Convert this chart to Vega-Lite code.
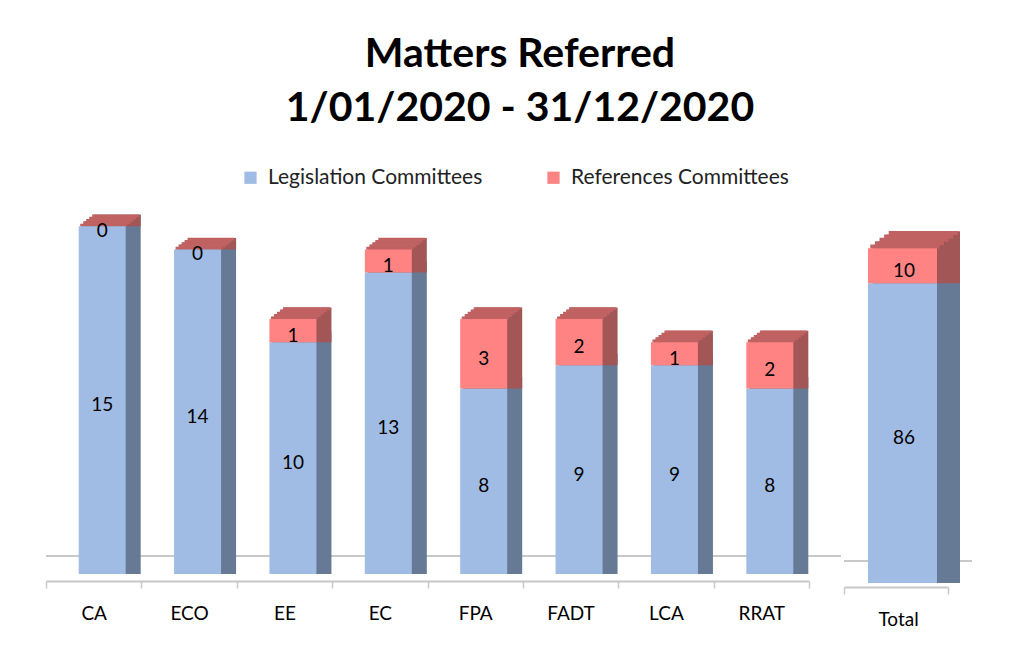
{
  "$schema": "https://vega.github.io/schema/vega-lite/v6.json",
  "padding": {"left": 45, "top": 34, "right": 10, "bottom": 10},
  "background": "white",
  "title": {"text": ["Matters Referred", "1/01/2020 - 31/12/2020"], "font": "Lato", "fontSize": 41, "fontWeight": "bold", "lineHeight": 54, "color": "black", "anchor": "middle", "dx": 11, "offset": 37},
  "data": {"values": [
    {"cat": "CA", "series": "Legislation Committees", "value": 15},
    {"cat": "CA", "series": "References Committees", "value": 0},
    {"cat": "ECO", "series": "Legislation Committees", "value": 14},
    {"cat": "ECO", "series": "References Committees", "value": 0},
    {"cat": "EE", "series": "Legislation Committees", "value": 10},
    {"cat": "EE", "series": "References Committees", "value": 1},
    {"cat": "EC", "series": "Legislation Committees", "value": 13},
    {"cat": "EC", "series": "References Committees", "value": 1},
    {"cat": "FPA", "series": "Legislation Committees", "value": 8},
    {"cat": "FPA", "series": "References Committees", "value": 3},
    {"cat": "FADT", "series": "Legislation Committees", "value": 9},
    {"cat": "FADT", "series": "References Committees", "value": 2},
    {"cat": "LCA", "series": "Legislation Committees", "value": 9},
    {"cat": "LCA", "series": "References Committees", "value": 1},
    {"cat": "RRAT", "series": "Legislation Committees", "value": 8},
    {"cat": "RRAT", "series": "References Committees", "value": 2},
    {"cat": "Total", "series": "Legislation Committees", "value": 86},
    {"cat": "Total", "series": "References Committees", "value": 10}
  ]},
  "transform": [
    {"stack": "value", "groupby": ["cat"], "sort": [{"field": "series", "order": "ascending"}], "as": ["v0", "v1"]},
    {"calculate": "(datum.v0 + datum.v1) / 2", "as": "mid"}
  ],
  "spacing": 35,
  "bounds": "flush",
  "resolve": {"scale": {"x": "independent", "y": "independent"}},
  "hconcat": [
    {
      "width": 763,
      "height": 371,
      "transform": [{"filter": "datum.cat !== 'Total'"}],
      "layer": [
        {"mark": {"type": "rule", "color": "#C8C8C8", "strokeWidth": 2, "yOffset": -18, "xOffset": 32, "x2Offset": 35}, "encoding": {"y": {"datum": 0, "type": "quantitative", "scale": {"domain": [0, 16], "nice": false}, "axis": null}}},
        {"mark": {"type": "bar", "width": 47, "xOffset": 11.5, "yOffset": -2.3}, "encoding": {"x": {"field": "cat", "type": "nominal", "sort": ["CA", "ECO", "EE", "EC", "FPA", "FADT", "LCA", "RRAT"]}, "y": {"field": "v1", "type": "quantitative", "scale": {"domain": [0, 16], "nice": false}, "axis": null}, "y2": {"field": "v0"}, "color": {"condition": {"test": "datum.series === 'Legislation Committees'", "value": "#667A96"}, "value": "#A35656"}}},
        {"mark": {"type": "bar", "width": 47, "xOffset": 14.5, "yOffset": -4.6}, "encoding": {"x": {"field": "cat", "type": "nominal", "sort": ["CA", "ECO", "EE", "EC", "FPA", "FADT", "LCA", "RRAT"]}, "y": {"field": "v1", "type": "quantitative"}, "y2": {"field": "v0"}, "color": {"condition": {"test": "datum.series === 'Legislation Committees'", "value": "#667A96"}, "value": "#A35656"}}},
        {"mark": {"type": "bar", "width": 47, "xOffset": 17.5, "yOffset": -6.9}, "encoding": {"x": {"field": "cat", "type": "nominal", "sort": ["CA", "ECO", "EE", "EC", "FPA", "FADT", "LCA", "RRAT"]}, "y": {"field": "v1", "type": "quantitative"}, "y2": {"field": "v0"}, "color": {"condition": {"test": "datum.series === 'Legislation Committees'", "value": "#667A96"}, "value": "#A35656"}}},
        {"mark": {"type": "bar", "width": 47, "xOffset": 20.5, "yOffset": -9.2}, "encoding": {"x": {"field": "cat", "type": "nominal", "sort": ["CA", "ECO", "EE", "EC", "FPA", "FADT", "LCA", "RRAT"]}, "y": {"field": "v1", "type": "quantitative"}, "y2": {"field": "v0"}, "color": {"condition": {"test": "datum.series === 'Legislation Committees'", "value": "#667A96"}, "value": "#A35656"}}},
        {"mark": {"type": "bar", "width": 47, "xOffset": 23.5, "yOffset": -11.5}, "encoding": {"x": {"field": "cat", "type": "nominal", "sort": ["CA", "ECO", "EE", "EC", "FPA", "FADT", "LCA", "RRAT"]}, "y": {"field": "v1", "type": "quantitative"}, "y2": {"field": "v0"}, "color": {"condition": {"test": "datum.series === 'Legislation Committees'", "value": "#667A96"}, "value": "#A35656"}}},
        {"transform": [{"filter": "datum.series === 'References Committees'"}], "mark": {"type": "tick", "size": 47, "thickness": 2.8, "color": "#C06262", "opacity": 1, "xOffset": 10, "yOffset": -1.15}, "encoding": {"x": {"field": "cat", "type": "nominal", "sort": ["CA", "ECO", "EE", "EC", "FPA", "FADT", "LCA", "RRAT"]}, "y": {"field": "v1", "type": "quantitative"}}},
        {"transform": [{"filter": "datum.series === 'References Committees'"}], "mark": {"type": "tick", "size": 47, "thickness": 2.8, "color": "#C06262", "opacity": 1, "xOffset": 13, "yOffset": -3.45}, "encoding": {"x": {"field": "cat", "type": "nominal", "sort": ["CA", "ECO", "EE", "EC", "FPA", "FADT", "LCA", "RRAT"]}, "y": {"field": "v1", "type": "quantitative"}}},
        {"transform": [{"filter": "datum.series === 'References Committees'"}], "mark": {"type": "tick", "size": 47, "thickness": 2.8, "color": "#C06262", "opacity": 1, "xOffset": 16, "yOffset": -5.75}, "encoding": {"x": {"field": "cat", "type": "nominal", "sort": ["CA", "ECO", "EE", "EC", "FPA", "FADT", "LCA", "RRAT"]}, "y": {"field": "v1", "type": "quantitative"}}},
        {"transform": [{"filter": "datum.series === 'References Committees'"}], "mark": {"type": "tick", "size": 47, "thickness": 2.8, "color": "#C06262", "opacity": 1, "xOffset": 19, "yOffset": -8.05}, "encoding": {"x": {"field": "cat", "type": "nominal", "sort": ["CA", "ECO", "EE", "EC", "FPA", "FADT", "LCA", "RRAT"]}, "y": {"field": "v1", "type": "quantitative"}}},
        {"transform": [{"filter": "datum.series === 'References Committees'"}], "mark": {"type": "tick", "size": 47, "thickness": 2.8, "color": "#C06262", "opacity": 1, "xOffset": 22, "yOffset": -10.35}, "encoding": {"x": {"field": "cat", "type": "nominal", "sort": ["CA", "ECO", "EE", "EC", "FPA", "FADT", "LCA", "RRAT"]}, "y": {"field": "v1", "type": "quantitative"}}},
        {"mark": {"type": "bar", "width": 47, "xOffset": 8.5}, "encoding": {
          "x": {"field": "cat", "type": "nominal", "sort": ["CA", "ECO", "EE", "EC", "FPA", "FADT", "LCA", "RRAT"], "scale": {"paddingInner": 0, "paddingOuter": 0},
            "axis": {"title": null, "offset": 7, "domainColor": "#C8C8C8", "domainWidth": 2, "tickColor": "#C8C8C8", "tickWidth": 1.5, "tickSize": 7, "tickBand": "extent", "labelFont": "Lato", "labelFontSize": 19, "labelColor": "black", "labelPadding": 25, "labelAngle": 0, "labelAlign": "center", "labelOffset": 0}},
          "y": {"field": "v1", "type": "quantitative"}, "y2": {"field": "v0"},
          "color": {"field": "series", "type": "nominal", "scale": {"domain": ["Legislation Committees", "References Committees"], "range": ["#A0BCE4", "#FF8383"]},
            "legend": {"orient": "none", "legendX": 194, "legendY": -36, "direction": "horizontal", "title": null, "symbolType": "square", "symbolSize": 150, "symbolStrokeWidth": 0, "labelFont": "Lato", "labelFontSize": 21, "labelLimit": 400, "labelColor": "#222222", "columnPadding": 60, "labelOffset": 7}}}},
        {"mark": {"type": "text", "font": "Lato", "fontSize": 19, "color": "black", "baseline": "middle", "xOffset": 8.5, "dy": 5}, "encoding": {"x": {"field": "cat", "type": "nominal", "sort": ["CA", "ECO", "EE", "EC", "FPA", "FADT", "LCA", "RRAT"]}, "y": {"field": "mid", "type": "quantitative"}, "text": {"field": "value", "type": "quantitative"}}}
      ]
    },
    {
      "width": 104,
      "height": 380,
      "transform": [{"filter": "datum.cat === 'Total'"}],
      "layer": [
        {"mark": {"type": "rule", "color": "#C8C8C8", "strokeWidth": 2, "yOffset": -22, "xOffset": 24, "x2Offset": 35}, "encoding": {"y": {"datum": 0, "type": "quantitative", "scale": {"domain": [0, 109], "nice": false}, "axis": null}}},
        {"mark": {"type": "bar", "width": 69, "xOffset": 11.1, "yOffset": -3.4}, "encoding": {"x": {"field": "cat", "type": "nominal"}, "y": {"field": "v1", "type": "quantitative", "scale": {"domain": [0, 109], "nice": false}, "axis": null}, "y2": {"field": "v0"}, "color": {"condition": {"test": "datum.series === 'Legislation Committees'", "value": "#667A96"}, "value": "#A35656"}}},
        {"mark": {"type": "bar", "width": 69, "xOffset": 15.7, "yOffset": -6.8}, "encoding": {"x": {"field": "cat", "type": "nominal"}, "y": {"field": "v1", "type": "quantitative"}, "y2": {"field": "v0"}, "color": {"condition": {"test": "datum.series === 'Legislation Committees'", "value": "#667A96"}, "value": "#A35656"}}},
        {"mark": {"type": "bar", "width": 69, "xOffset": 20.3, "yOffset": -10.2}, "encoding": {"x": {"field": "cat", "type": "nominal"}, "y": {"field": "v1", "type": "quantitative"}, "y2": {"field": "v0"}, "color": {"condition": {"test": "datum.series === 'Legislation Committees'", "value": "#667A96"}, "value": "#A35656"}}},
        {"mark": {"type": "bar", "width": 69, "xOffset": 24.9, "yOffset": -13.6}, "encoding": {"x": {"field": "cat", "type": "nominal"}, "y": {"field": "v1", "type": "quantitative"}, "y2": {"field": "v0"}, "color": {"condition": {"test": "datum.series === 'Legislation Committees'", "value": "#667A96"}, "value": "#A35656"}}},
        {"mark": {"type": "bar", "width": 69, "xOffset": 29.5, "yOffset": -17}, "encoding": {"x": {"field": "cat", "type": "nominal"}, "y": {"field": "v1", "type": "quantitative"}, "y2": {"field": "v0"}, "color": {"condition": {"test": "datum.series === 'Legislation Committees'", "value": "#667A96"}, "value": "#A35656"}}},
        {"transform": [{"filter": "datum.series === 'References Committees'"}], "mark": {"type": "tick", "size": 69, "thickness": 4, "color": "#C06262", "opacity": 1, "xOffset": 8.8, "yOffset": -1.7}, "encoding": {"x": {"field": "cat", "type": "nominal"}, "y": {"field": "v1", "type": "quantitative"}}},
        {"transform": [{"filter": "datum.series === 'References Committees'"}], "mark": {"type": "tick", "size": 69, "thickness": 4, "color": "#C06262", "opacity": 1, "xOffset": 13.4, "yOffset": -5.1}, "encoding": {"x": {"field": "cat", "type": "nominal"}, "y": {"field": "v1", "type": "quantitative"}}},
        {"transform": [{"filter": "datum.series === 'References Committees'"}], "mark": {"type": "tick", "size": 69, "thickness": 4, "color": "#C06262", "opacity": 1, "xOffset": 18, "yOffset": -8.5}, "encoding": {"x": {"field": "cat", "type": "nominal"}, "y": {"field": "v1", "type": "quantitative"}}},
        {"transform": [{"filter": "datum.series === 'References Committees'"}], "mark": {"type": "tick", "size": 69, "thickness": 4, "color": "#C06262", "opacity": 1, "xOffset": 22.6, "yOffset": -11.9}, "encoding": {"x": {"field": "cat", "type": "nominal"}, "y": {"field": "v1", "type": "quantitative"}}},
        {"transform": [{"filter": "datum.series === 'References Committees'"}], "mark": {"type": "tick", "size": 69, "thickness": 4, "color": "#C06262", "opacity": 1, "xOffset": 27.2, "yOffset": -15.3}, "encoding": {"x": {"field": "cat", "type": "nominal"}, "y": {"field": "v1", "type": "quantitative"}}},
        {"mark": {"type": "bar", "width": 69, "xOffset": 6.5}, "encoding": {
          "x": {"field": "cat", "type": "nominal", "scale": {"paddingInner": 0, "paddingOuter": 0},
            "axis": {"title": null, "offset": 4, "domainColor": "#C8C8C8", "domainWidth": 2, "tickColor": "#C8C8C8", "tickWidth": 1.5, "tickSize": 7, "tickBand": "extent", "labelFont": "Lato", "labelFontSize": 19, "labelColor": "black", "labelPadding": 25, "labelAngle": 0, "labelAlign": "center", "labelOffset": 2}},
          "y": {"field": "v1", "type": "quantitative"}, "y2": {"field": "v0"},
          "color": {"field": "series", "type": "nominal", "scale": {"domain": ["Legislation Committees", "References Committees"], "range": ["#A0BCE4", "#FF8383"]}}}},
        {"mark": {"type": "text", "font": "Lato", "fontSize": 19, "color": "black", "baseline": "middle", "xOffset": 8, "dy": 5}, "encoding": {"x": {"field": "cat", "type": "nominal"}, "y": {"field": "mid", "type": "quantitative"}, "text": {"field": "value", "type": "quantitative"}}}
      ]
    }
  ],
  "config": {"view": {"stroke": null}, "font": "Lato"}
}
